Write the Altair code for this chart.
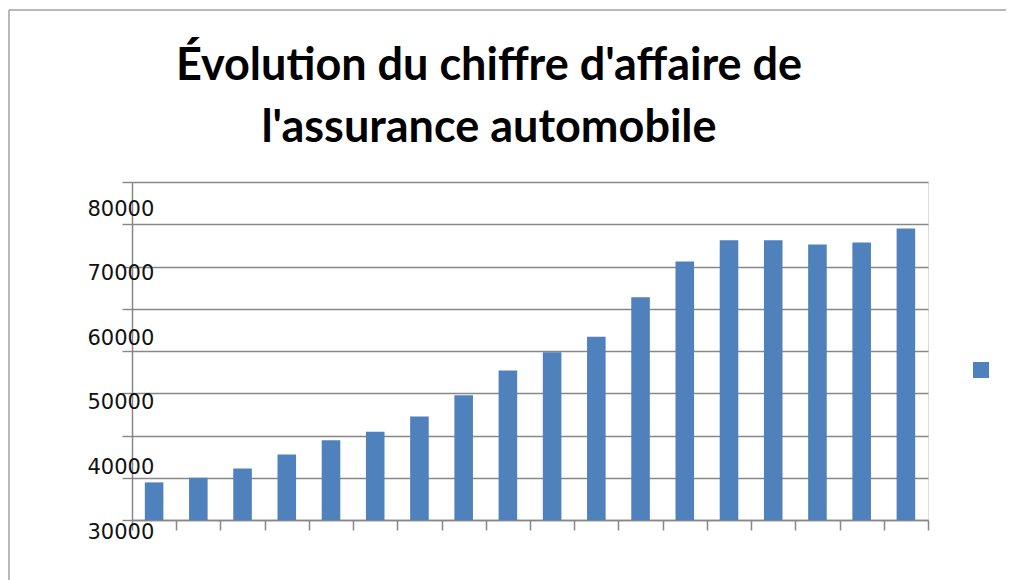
import altair as alt
import pandas as pd

# Data (18 bars, no category labels shown)
periods = [f"P{i}" for i in range(1, 19)]
values = [8900, 10000, 12200, 15500, 18900, 20900, 24500, 29500, 35400,
          39700, 43400, 52700, 61200, 66200, 66200, 65200, 65700, 69000]
label_values = [30000, 40000, 50000, 60000, 70000, 80000]
series_name = "Chiffre d'affaire"
title_lines = ["Évolution du chiffre d'affaire de", "l'assurance automobile"]

df = pd.DataFrame({"periode": periods, "ca": values, "serie": series_name})
df_labels = pd.DataFrame({"v": label_values})

W, H = 796, 338
GRAY = "#878787"
BLUE = "#4F81BD"
FRAME = "#a0a0a0"

frame_top = alt.Chart(alt.Data(values=[{}])).mark_rule(
    stroke=FRAME, strokeWidth=1.5
).encode(x=alt.value(-123), x2=alt.value(874), y=alt.value(-172))

frame_left = alt.Chart(alt.Data(values=[{}])).mark_rule(
    stroke=FRAME, strokeWidth=1.5
).encode(x=alt.value(-123), y=alt.value(-172), y2=alt.value(398))

bars = alt.Chart(df).mark_bar(color=BLUE, width=alt.RelativeBandSize(0.42)).encode(
    x=alt.X("periode:N", sort=periods,
            scale=alt.Scale(paddingInner=0, paddingOuter=0),
            axis=alt.Axis(title=None, labels=False, grid=False, domain=True,
                          domainColor=GRAY, domainWidth=1.5,
                          ticks=True, tickBand="extent", tickColor=GRAY,
                          tickWidth=1.5, tickSize=10)),
    y=alt.Y("ca:Q", scale=alt.Scale(domain=[0, 80000], nice=False),
            axis=alt.Axis(title=None, labels=False, values=list(range(0, 80001, 10000)),
                          grid=True, gridColor=GRAY, gridWidth=1.4,
                          domain=True, domainColor=GRAY, domainWidth=1.5,
                          ticks=True, tickColor=GRAY, tickWidth=1.4, tickSize=10,
                          orient="left")),
    color=alt.Color("serie:N", scale=alt.Scale(range=[BLUE]),
                    legend=alt.Legend(title=None, orient="none", legendX=841, legendY=180,
                                      symbolType="square", symbolSize=256,
                                      symbolStrokeWidth=0, symbolOpacity=1,
                                      labelExpr="''", padding=0)),
)

labels = alt.Chart(df_labels).mark_tick(opacity=0).encode(
    y=alt.Y("v:Q", scale=alt.Scale(domain=[30000, 80000], range=[350, 27], nice=False, zero=False),
            axis=alt.Axis(title=None, orient="left", domain=False, ticks=False, tickSize=0,
                          grid=False, values=label_values, labelAlign="left",
                          labelBaseline="middle", labelPadding=45,
                          labelFont="DejaVu Sans", labelFontSize=21,
                          labelColor="#111111", format="d")),
)

chart = alt.layer(frame_top, frame_left, bars, labels).resolve_scale(y="independent").properties(
    width=W, height=H,
    autosize="none",
    padding={"left": 124, "top": 174, "right": 78, "bottom": 60},
    title=alt.Title(title_lines, anchor="middle", dx=-41, offset=0, dy=142,
                    font="Lato", fontSize=45, fontWeight="bold", lineHeight=62,
                    color="#000000"),
).configure_view(stroke=None).configure(background="white")

chart.save("out.html", embed_options={"renderer": "svg", "actions": False})
